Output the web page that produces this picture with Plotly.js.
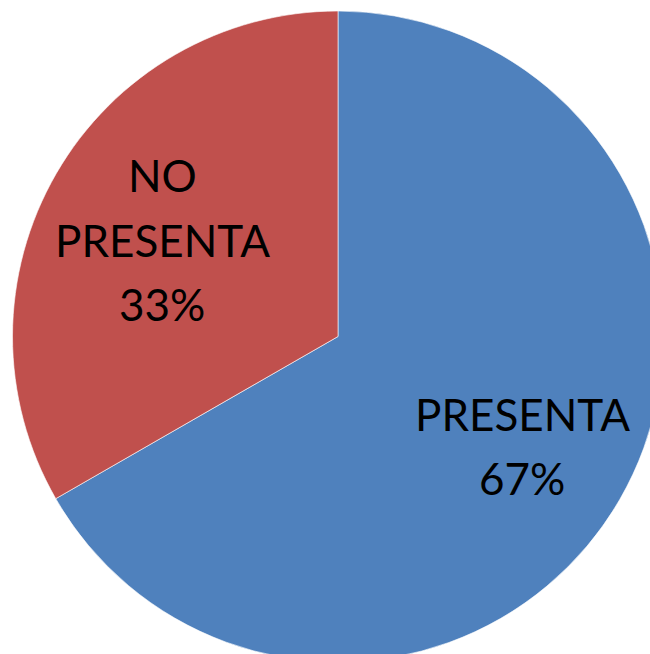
<!DOCTYPE html>
<html>
<head>
<meta charset="utf-8">
<script src="https://cdn.plot.ly/plotly-3.0.1.min.js"></script>
<style>
html, body { margin: 0; padding: 0; overflow: hidden; background: #fff; }
#chart { width: 676px; height: 674px; }
</style>
</head>
<body>
<div id="chart"></div>
<script>
const categories = ["PRESENTA", "NO PRESENTA"];
const values = [66.7, 33.3];
const colors = ["#4F81BD", "#C0504D"];

const total = values.reduce((a, b) => a + b, 0);
const pct = values.map(v => Math.round(v / total * 100) + "%");

const W = 676, H = 674, M = {l: 12, r: 12, t: 11, b: 12};
const pw = W - M.l - M.r, ph = H - M.t - M.b;
function px(x) { return (x - M.l) / pw; }
function py(y) { return 1 - (y - M.t) / ph; }

const font = {family: "Lato, 'Open Sans', sans-serif", size: 44, color: "#000"};
// label line positions (image pixel coordinates of each text line centre)
const labelLines = [
  [["PRESENTA", 522, 414], [pct[0], 522, 478]],
  [["NO", 162, 175], ["PRESENTA", 162, 240], [pct[1], 162, 304]]
];
const annotations = [];
labelLines.forEach(lines => lines.forEach(([t, x, y]) => {
  annotations.push({text: t, xref: "paper", yref: "paper", x: px(x), y: py(y),
    xanchor: "center", yanchor: "middle", showarrow: false, font: font});
}));

Plotly.newPlot("chart", [{
  type: "pie",
  labels: categories,
  values: values,
  sort: false,
  direction: "clockwise",
  rotation: 0,
  marker: {colors: colors, line: {color: "rgba(255,255,255,0.6)", width: 1}},
  textinfo: "none",
  hoverinfo: "label+percent",
  showlegend: false
}], {
  width: W, height: H,
  margin: M,
  paper_bgcolor: "#fff",
  showlegend: false,
  annotations: annotations
}, {displayModeBar: false, staticPlot: true});
</script>
</body>
</html>
